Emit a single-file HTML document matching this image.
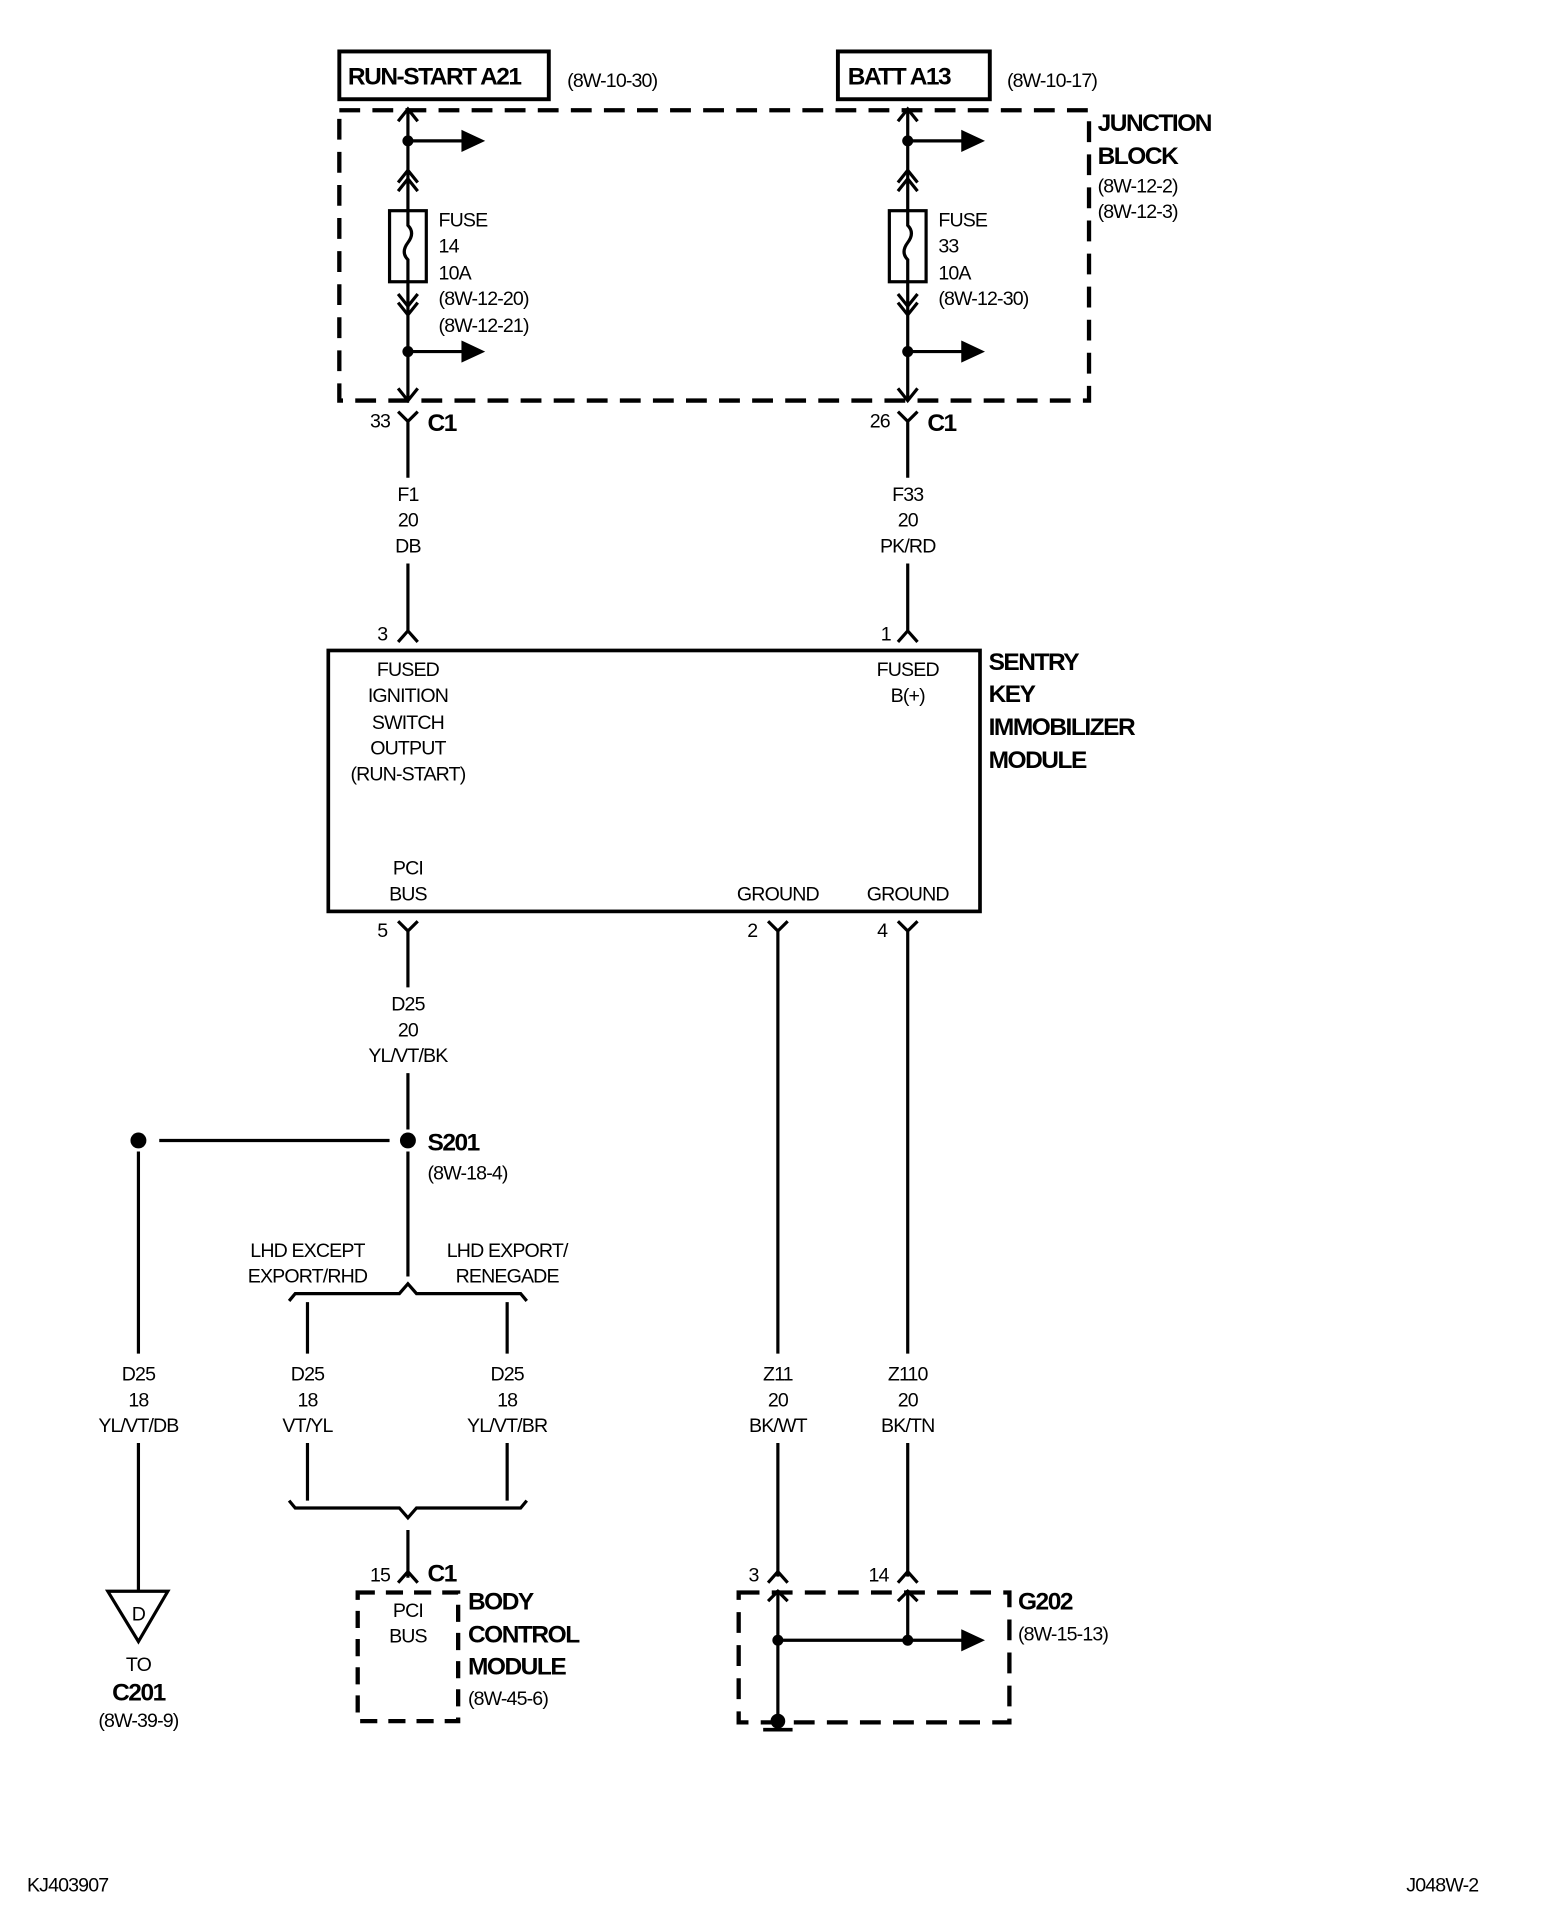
<!DOCTYPE html>
<html><head><meta charset="utf-8"><style>
html,body{margin:0;padding:0;background:#fff}
svg{display:block}
text{font-family:"Liberation Sans Narrow","Liberation Sans",sans-serif;fill:#000}
.s{font-size:16px;letter-spacing:-0.7px}
.b{font-size:20px;font-weight:bold;letter-spacing:-1.2px}
.m{text-anchor:middle}
</style></head><body>
<svg width="1568" height="1920" viewBox="0 0 1280 1567.35" xmlns="http://www.w3.org/2000/svg">
<g stroke="#000" stroke-width="2.6" fill="none">
<rect x="277" y="42" width="171" height="39" stroke-width="3.2"/>
<rect x="684" y="42" width="124" height="39" stroke-width="3.2"/>
<rect x="277" y="90" width="612" height="237" stroke-width="3.5" stroke-dasharray="17,10"/>
<path d="M333 90V172M333 230V327"/>
<path d="M325 99l8-10 8 10"/>
<path d="M333 115H380"/><path d="M378 108l15 7-15 7z" fill="#000"/>
<path d="M325 156l8-10 8 10M325 149l8-10 8 10"/>
<rect x="318" y="172" width="30" height="58"/>
<path d="M333 172v12q6 6 0 14t0 14v18"/>
<path d="M325 240l8 10 8-10M325 247l8 10 8-10"/>
<path d="M333 287H380"/><path d="M378 280l15 7-15 7z" fill="#000"/>
<path d="M325 317l8 10 8-10"/>
<path d="M741 90V172M741 230V327"/>
<path d="M733 99l8-10 8 10"/>
<path d="M741 115H788"/><path d="M786 108l15 7-15 7z" fill="#000"/>
<path d="M733 156l8-10 8 10M733 149l8-10 8 10"/>
<rect x="726" y="172" width="30" height="58"/>
<path d="M741 172v12q6 6 0 14t0 14v18"/>
<path d="M733 240l8 10 8-10M733 247l8 10 8-10"/>
<path d="M741 287H788"/><path d="M786 280l15 7-15 7z" fill="#000"/>
<path d="M733 317l8 10 8-10"/>
<path d="M325 336l8 8 8-8M333 344V390M333 460V516M325 524l8-9 8 9"/>
<path d="M733 336l8 8 8-8M741 344V390M741 460V516M733 524l8-9 8 9"/>
<rect x="268" y="531" width="532" height="213" stroke-width="3"/>
<path d="M325 752l8 8 8-8M333 760V806M333 876V922"/>
<path d="M627 752l8 8 8-8M635 760V1105M635 1178V1287"/>
<path d="M733 752l8 8 8-8M741 760V1105M741 1178V1287"/>
<path d="M130 931H318"/>
<path d="M333 940V1042"/>
<path d="M113 940V1105M113 1178V1298"/>
<path d="M236 1062l5-6H326l7-8 7 8H425l5 6"/>
<path d="M251 1063V1105M251 1178V1225M414 1063V1105M414 1178V1225"/>
<path d="M236 1225l5 6H326l7 8 7-8H425l5-6"/>
<path d="M333 1249V1288M325 1292l8-9 8 9"/>
<path d="M88 1299H137L113 1340Z"/>
<rect x="292" y="1300" width="82" height="105" stroke-width="3.5" stroke-dasharray="14,9"/>
<path d="M627 1292l8-9 8 9M733 1292l8-9 8 9"/>
<rect x="603" y="1300" width="221" height="106" stroke-width="3.5" stroke-dasharray="17,10"/>
<path d="M635 1298V1405M741 1298V1339M627 1307l8-8 8 8M733 1307l8-8 8 8M635 1339H790"/>
<path d="M786 1332l15 7-15 7z" fill="#000"/>
<path d="M623 1412H647" stroke-width="3"/>
</g>
<g fill="#000">
<circle cx="333" cy="115" r="4.5"/><circle cx="333" cy="287" r="4.5"/>
<circle cx="741" cy="115" r="4.5"/><circle cx="741" cy="287" r="4.5"/>
<circle cx="113" cy="931" r="6.5"/><circle cx="333" cy="931" r="6.5"/>
<circle cx="635" cy="1339" r="4.5"/><circle cx="741" cy="1339" r="4.5"/>
<circle cx="635" cy="1405" r="6"/>
</g>
<text class="b" x="284" y="69">RUN-START A21</text>
<text class="s" x="463" y="71">(8W-10-30)</text>
<text class="b" x="692" y="69">BATT A13</text>
<text class="s" x="822" y="71">(8W-10-17)</text>
<text class="b" x="896" y="107">JUNCTION</text>
<text class="b" x="896" y="134">BLOCK</text>
<text class="s" x="896" y="157">(8W-12-2)</text>
<text class="s" x="896" y="178">(8W-12-3)</text>
<text class="s" x="358" y="185">FUSE</text><text class="s" x="358" y="206">14</text><text class="s" x="358" y="228">10A</text>
<text class="s" x="358" y="249">(8W-12-20)</text><text class="s" x="358" y="271">(8W-12-21)</text>
<text class="s" x="766" y="185">FUSE</text><text class="s" x="766" y="206">33</text><text class="s" x="766" y="228">10A</text>
<text class="s" x="766" y="249">(8W-12-30)</text>
<text class="s" x="302" y="349">33</text><text class="b" x="349" y="352">C1</text>
<text class="s" x="710" y="349">26</text><text class="b" x="757" y="352">C1</text>
<text class="s m" x="333" y="409">F1</text><text class="s m" x="333" y="430">20</text><text class="s m" x="333" y="451">DB</text>
<text class="s m" x="741" y="409">F33</text><text class="s m" x="741" y="430">20</text><text class="s m" x="741" y="451">PK/RD</text>
<text class="s" x="308" y="523">3</text><text class="s" x="719" y="523">1</text>
<text class="s m" x="333" y="552">FUSED</text><text class="s m" x="333" y="573">IGNITION</text><text class="s m" x="333" y="595">SWITCH</text>
<text class="s m" x="333" y="616">OUTPUT</text><text class="s m" x="333" y="637">(RUN-START)</text>
<text class="s m" x="741" y="552">FUSED</text><text class="s m" x="741" y="573">B(+)</text>
<text class="s m" x="333" y="714">PCI</text><text class="s m" x="333" y="735">BUS</text>
<text class="s m" x="635" y="735">GROUND</text><text class="s m" x="741" y="735">GROUND</text>
<text class="b" x="807" y="547">SENTRY</text><text class="b" x="807" y="573">KEY</text>
<text class="b" x="807" y="600">IMMOBILIZER</text><text class="b" x="807" y="627">MODULE</text>
<text class="s" x="308" y="765">5</text><text class="s" x="610" y="765">2</text><text class="s" x="716" y="765">4</text>
<text class="s m" x="333" y="825">D25</text><text class="s m" x="333" y="846">20</text><text class="s m" x="333" y="867">YL/VT/BK</text>
<text class="b" x="349" y="939">S201</text><text class="s" x="349" y="963">(8W-18-4)</text>
<text class="s m" x="251" y="1026">LHD EXCEPT</text><text class="s m" x="251" y="1047">EXPORT/RHD</text>
<text class="s m" x="414" y="1026">LHD EXPORT/</text><text class="s m" x="414" y="1047">RENEGADE</text>
<text class="s m" x="113" y="1127">D25</text><text class="s m" x="113" y="1148">18</text><text class="s m" x="113" y="1169">YL/VT/DB</text>
<text class="s m" x="251" y="1127">D25</text><text class="s m" x="251" y="1148">18</text><text class="s m" x="251" y="1169">VT/YL</text>
<text class="s m" x="414" y="1127">D25</text><text class="s m" x="414" y="1148">18</text><text class="s m" x="414" y="1169">YL/VT/BR</text>
<text class="s m" x="635" y="1127">Z11</text><text class="s m" x="635" y="1148">20</text><text class="s m" x="635" y="1169">BK/WT</text>
<text class="s m" x="741" y="1127">Z110</text><text class="s m" x="741" y="1148">20</text><text class="s m" x="741" y="1169">BK/TN</text>
<text class="s" x="302" y="1291">15</text><text class="b" x="349" y="1291">C1</text>
<text class="s" x="611" y="1291">3</text><text class="s" x="709" y="1291">14</text>
<text class="s m" x="113" y="1323">D</text>
<text class="s m" x="113" y="1364">TO</text><text class="b m" x="113" y="1388">C201</text><text class="s m" x="113" y="1410">(8W-39-9)</text>
<text class="s m" x="333" y="1320">PCI</text><text class="s m" x="333" y="1341">BUS</text>
<text class="b" x="382" y="1314">BODY</text><text class="b" x="382" y="1341">CONTROL</text><text class="b" x="382" y="1367">MODULE</text>
<text class="s" x="382" y="1392">(8W-45-6)</text>
<text class="b" x="831" y="1314">G202</text><text class="s" x="831" y="1339">(8W-15-13)</text>
<text class="s" x="22" y="1544">KJ403907</text>
<text class="s" x="1148" y="1544">J048W-2</text>
</svg>
</body></html>
